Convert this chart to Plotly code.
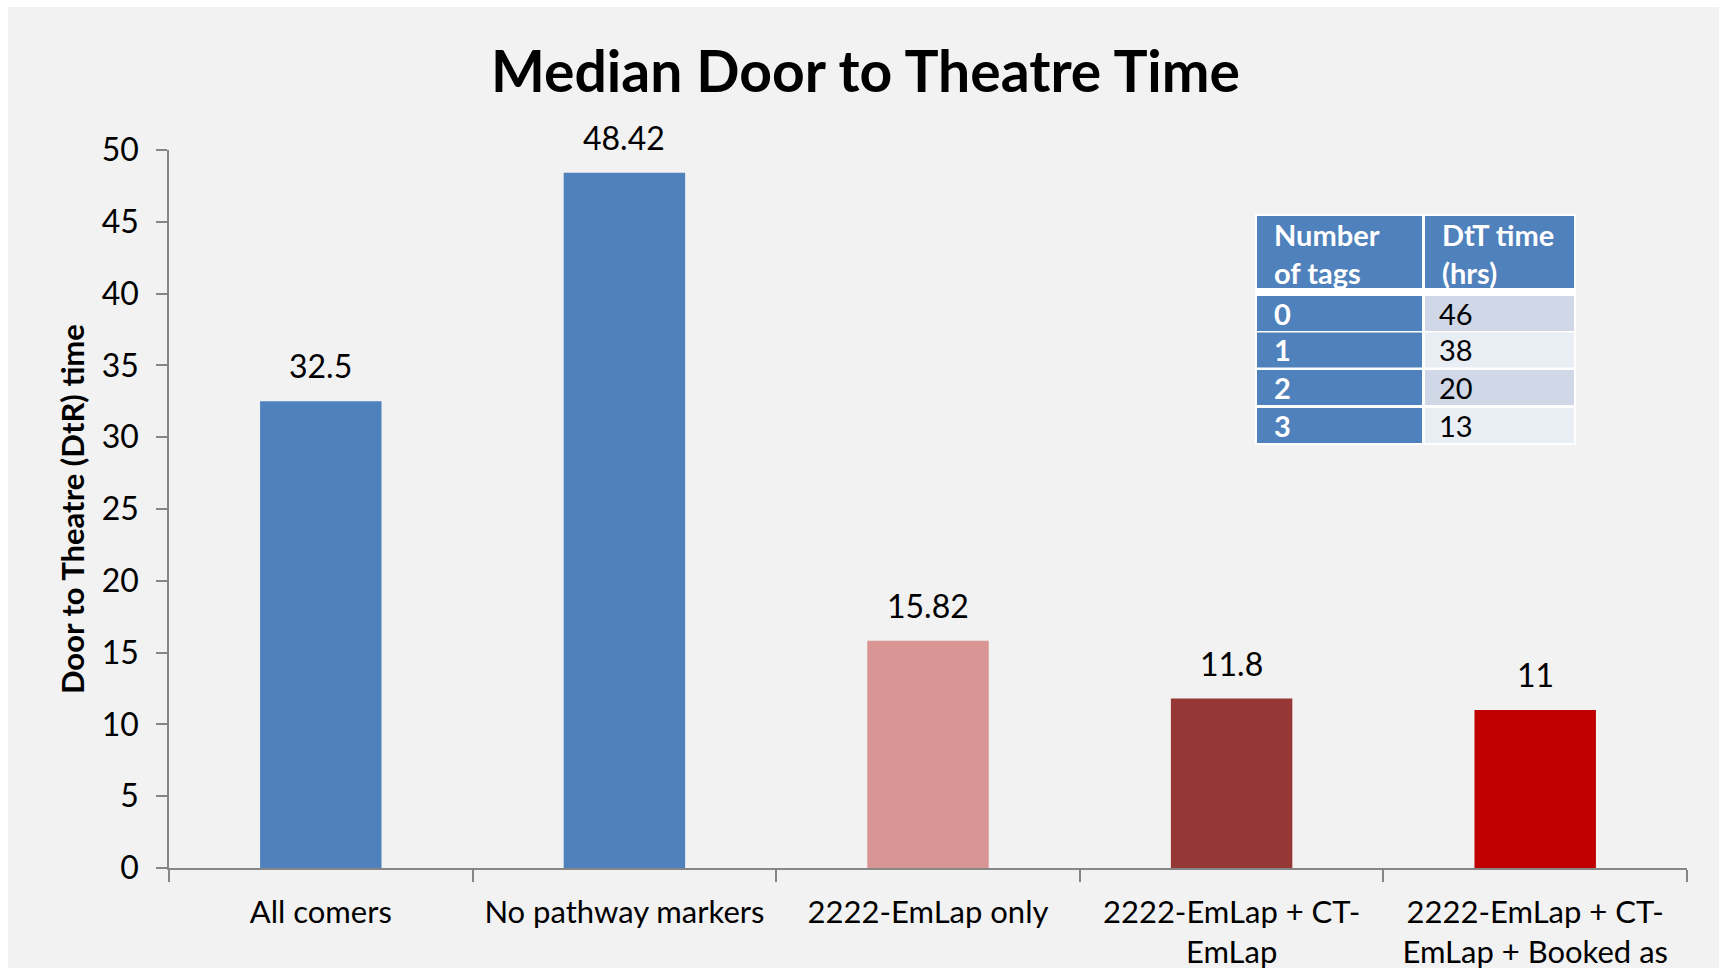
import plotly.graph_objects as go

categories = ["All comers", "No pathway markers", "2222-EmLap only",
              "2222-EmLap + CT-<br>EmLap", "2222-EmLap + CT-<br>EmLap + Booked as"]
values = [32.5, 48.42, 15.82, 11.8, 11]
value_labels = ["32.5", "48.42", "15.82", "11.8", "11"]
bar_colors = ["#4F81BD", "#4F81BD", "#D99594", "#953735", "#C00000"]

table_header = ["Number<br>of tags", "DtT time<br>(hrs)"]
table_tags = ["0", "1", "2", "3"]
table_times = ["46", "38", "20", "13"]
table_time_fills = ["#D0D8E8", "#E9EDF4", "#D0D8E8", "#E9EDF4"]

W, H = 1719, 968
FONT = "Lato"


def px(x):
    return x / W


def py(y):
    return 1 - y / H


fig = go.Figure()
fig.add_trace(go.Bar(
    x=categories, y=values, marker=dict(color=bar_colors, line=dict(width=0)),
    width=0.4, showlegend=False, hoverinfo="x+y",
))

for c, v, t in zip(categories, values, value_labels):
    fig.add_annotation(x=c, y=v, xref="x", yref="y", text=t, showarrow=False,
                       xanchor="center", yanchor="bottom", yshift=14,
                       font=dict(family=FONT, size=32, color="#000000"))

# background
fig.add_shape(type="rect", xref="paper", yref="paper", x0=px(8), x1=1, y0=0, y1=py(7),
              fillcolor="#F2F2F2", line=dict(width=0), layer="below")

# table (drawn from the arrays above)
T_LEFT, T_SEP, T_RIGHT = 1257, 1423.5, 1574
H_TOP, H_BOT = 216, 288
ROW_TOPS = [296, 332.5, 370, 408]
ROW_H = 35
BLUE = "#4F81BD"

fig.add_shape(type="rect", xref="paper", yref="paper", x0=px(T_LEFT - 2), x1=px(T_RIGHT + 2),
              y0=py(ROW_TOPS[-1] + ROW_H + 2), y1=py(H_TOP - 2), fillcolor="white",
              line=dict(width=0), layer="above")
col_bounds = [(T_LEFT, T_SEP - 1.5), (T_SEP + 1.5, T_RIGHT)]
for (cx0, cx1), head in zip(col_bounds, table_header):
    fig.add_shape(type="rect", xref="paper", yref="paper", x0=px(cx0), x1=px(cx1),
                  y0=py(H_BOT), y1=py(H_TOP), fillcolor=BLUE, line=dict(width=0), layer="above")
    fig.add_annotation(x=px(cx0 + 15), y=py((H_TOP + H_BOT) / 2 + 1), xref="paper", yref="paper",
                       text="<b>" + head + "</b>", showarrow=False, xanchor="left", yanchor="middle",
                       align="left", font=dict(family=FONT, size=29, color="white"))
for i, (tag, tm, fillc) in enumerate(zip(table_tags, table_times, table_time_fills)):
    top = ROW_TOPS[i]
    bot = top + ROW_H
    (ax0, ax1), (bx0, bx1) = col_bounds
    fig.add_shape(type="rect", xref="paper", yref="paper", x0=px(ax0), x1=px(ax1),
                  y0=py(bot), y1=py(top), fillcolor=BLUE, line=dict(width=0), layer="above")
    fig.add_shape(type="rect", xref="paper", yref="paper", x0=px(bx0), x1=px(bx1),
                  y0=py(bot), y1=py(top), fillcolor=fillc, line=dict(width=0), layer="above")
    fig.add_annotation(x=px(ax0 + 15), y=py((top + bot) / 2), xref="paper", yref="paper",
                       text="<b>" + tag + "</b>", showarrow=False, xanchor="left", yanchor="middle",
                       font=dict(family=FONT, size=29, color="white"))
    fig.add_annotation(x=px(bx0 + 12), y=py((top + bot) / 2), xref="paper", yref="paper",
                       text=tm, showarrow=False, xanchor="left", yanchor="middle",
                       font=dict(family=FONT, size=29, color="black"))

fig.add_annotation(x=px(866), y=py(70), xref="paper", yref="paper",
                   text="<b>Median Door to Theatre Time</b>", showarrow=False,
                   xanchor="center", yanchor="middle",
                   font=dict(family=FONT, size=57, color="#000000"))
fig.add_annotation(x=px(72), y=py(509), xref="paper", yref="paper",
                   text="<b>Door to Theatre (DtR) time</b>", showarrow=False, textangle=-90,
                   xanchor="center", yanchor="middle",
                   font=dict(family=FONT, size=31, color="#000000"))

fig.update_layout(
    width=W, height=H, margin=dict(l=0, r=0, t=0, b=0, pad=0),
    paper_bgcolor="white", plot_bgcolor="rgba(0,0,0,0)",
    font=dict(family=FONT, color="#000000"),
    bargap=0.6,
    xaxis=dict(domain=[px(169), px(1687)], showline=True, linecolor="#868686", linewidth=1.5,
               ticks="outside", tickson="boundaries", ticklen=12, tickcolor="#868686",
               tickwidth=1.5, tickfont=dict(family=FONT, size=31, color="#000000"),
               ticklabelstandoff=16, showgrid=False, zeroline=False, fixedrange=True,
               automargin=False),
    yaxis=dict(domain=[py(868), py(150)], range=[0, 50], dtick=5,
               showline=True, linecolor="#868686", linewidth=1.5,
               ticks="outside", ticklen=11, tickcolor="#868686", tickwidth=1.5,
               tickfont=dict(family=FONT, size=32, color="#000000"),
               ticklabelstandoff=11, showgrid=False, zeroline=False, fixedrange=True,
               automargin=False),
)

fig.write_html("out.html")
